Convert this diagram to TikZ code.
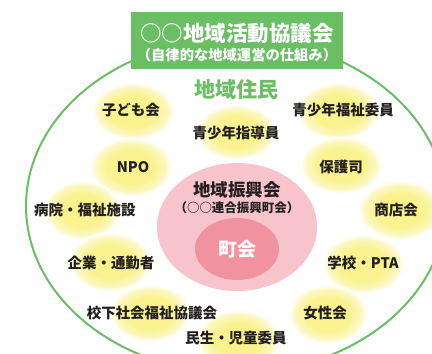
\documentclass[tikz,border=0pt]{standalone}
\usepackage{fontspec}
\setmainfont{Noto Sans CJK JP}
\usetikzlibrary{shapes.geometric}
\definecolor{grn}{RGB}{106,190,100}
\definecolor{pinkA}{RGB}{247,196,204}
\definecolor{pinkB}{RGB}{240,146,160}
\definecolor{glowy}{RGB}{250,242,142}
\definecolor{glowm}{RGB}{252,247,192}
\definecolor{ink}{RGB}{35,31,32}
\pgfdeclareradialshading{glow}{\pgfpoint{0bp}{0bp}}{color(0bp)=(glowy);color(14bp)=(glowy);color(21bp)=(glowm);color(25bp)=(white);color(50bp)=(white)}
\tikzset{
  blob/.style={ellipse,inner sep=0pt,shading=glow,draw=none},
  lab/.style={text=ink,inner sep=0pt,font=\fontsize{14.5}{16}\selectfont\bfseries},
}
\begin{document}
\begin{tikzpicture}[x=1pt,y=-1pt]
\clip (0,0) rectangle (432,354);
\fill[white] (0,0) rectangle (432,354);
% big ellipse
\draw[grn,line width=2pt] (236,206) ellipse (210 and 167);
% title box
\node[fill=grn,minimum width=212pt,minimum height=57pt,inner sep=0pt] (title) at (237,40.5) {};
\node[text=white,inner sep=0pt,font=\fontsize{21.5}{24}\selectfont\bfseries] (t1) at (237,33) {○○地域活動協議会};
\node[text=white,inner sep=0pt,font=\fontsize{14.3}{16}\selectfont\bfseries] (t2) at (237,55) {（自律的な地域運営の仕組み）};
\node[text=grn,inner sep=0pt,font=\fontsize{21}{24}\selectfont\bfseries] (jumin) at (236,90) {地域住民};
% blobs
\node[blob,minimum width=82pt,minimum height=57pt] (b1) at (133,111) {};
\node[blob,minimum width=80pt,minimum height=55pt] (b2) at (236,132) {};
\node[blob,minimum width=82pt,minimum height=57pt] (b3) at (338,111) {};
\node[blob,minimum width=82pt,minimum height=59pt] (b4) at (131,167) {};
\node[blob,minimum width=82pt,minimum height=57pt] (b5) at (341,165) {};
\node[blob,minimum width=76pt,minimum height=59pt] (b6) at (82,210) {};
\node[blob,minimum width=84pt,minimum height=59pt] (b7) at (400,210) {};
\node[blob,minimum width=82pt,minimum height=59pt] (b8) at (110,262) {};
\node[blob,minimum width=82pt,minimum height=59pt] (b9) at (363,264) {};
\node[blob,minimum width=80pt,minimum height=57pt] (b10) at (150,313) {};
\node[blob,minimum width=78pt,minimum height=59pt] (b11) at (328,314) {};
\node[blob,minimum width=82pt,minimum height=61pt] (b12) at (238,340) {};
% pink
\node[ellipse,fill=pinkA,minimum width=160pt,minimum height=128pt,inner sep=0pt] (shinko) at (237,227) {};
\node[ellipse,fill=pinkB,minimum width=84pt,minimum height=62pt,inner sep=0pt] (chokai) at (237,249) {};
\node[text=ink,inner sep=0pt,font=\fontsize{17.5}{20}\selectfont\bfseries] (s1) at (237,190) {地域振興会};
\node[text=ink,inner sep=0pt,font=\fontsize{12.5}{14}\selectfont\bfseries] (s2) at (237,208) {（○○連合振興町会）};
\node[text=white,inner sep=0pt,font=\fontsize{19}{22}\selectfont\bfseries] (c1) at (237,249) {町会};
% labels
\node[lab] (l1) at (131,110) {子ども会};
\node[lab] (l2) at (236,133) {青少年指導員};
\node[lab] (l3) at (343,110) {青少年福祉委員};
\node[lab] (l4) at (133,167) {NPO};
\node[lab] (l5) at (341,167) {保護司};
\node[lab] (l6) at (85,210) {病院・福祉施設};
\node[lab] (l7) at (396,210) {商店会};
\node[lab] (l8) at (111,263) {企業・通勤者};
\node[lab] (l9) at (363,263) {学校・PTA};
\node[lab] (l10) at (152,313) {校下社会福祉協議会};
\node[lab] (l11) at (325,313) {女性会};
\node[lab] (l12) at (236,338) {民生・児童委員};
\end{tikzpicture}
\end{document}
